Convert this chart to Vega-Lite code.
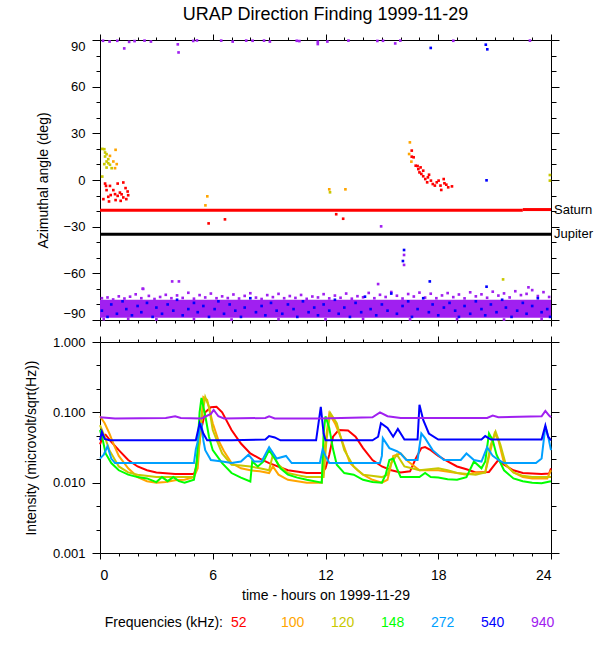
{
  "$schema": "https://vega.github.io/schema/vega-lite/v6.json",
  "background": "white",
  "padding": {"left": 23, "top": 5, "right": 0, "bottom": 0},
  "config": {
    "font": "Liberation Sans",
    "view": {"stroke": "black", "strokeWidth": 1},
    "axis": {
      "domain": false, "grid": false, "tickColor": "black", "tickWidth": 1,
      "labelColor": "black", "titleColor": "black", "labelFontSize": 13,
      "titleFontSize": 14, "titleFontWeight": "normal"
    }
  },
  "spacing": 8,
  "resolve": {"scale": {"color": "independent"}},
  "vconcat": [
    {
      "width": 451,
      "height": 280,
      "title": {"text": "URAP Direction Finding  1999-11-29", "fontSize": 18, "fontWeight": "normal", "frame": "group", "anchor": "middle", "offset": 10},
      "resolve": {"axis": {"x": "independent", "y": "independent"}},
      "layer": [
        {
          "data": {"values": [{"t0": 0, "t1": 24, "a0": -88.5, "a1": -77}]},
          "mark": {"type": "rect", "color": "#a020f0"},
          "encoding": {
            "x": {"field": "t0", "type": "quantitative", "scale": {"domain": [0, 24], "nice": false, "zero": false}, "axis": null},
            "x2": {"field": "t1"},
            "y": {"field": "a0", "type": "quantitative", "scale": {"domain": [-90, 90], "nice": false, "zero": false}, "axis": null},
            "y2": {"field": "a1"}
          }
        },
        {
          "data": {"values": [
            {"t":0.1,"a":-76,"f":"940"},{"t":0.4,"a":-75.5,"f":"940"},{"t":0.7,"a":-76.8,"f":"940"},{"t":1.0,"a":-74.8,"f":"940"},{"t":1.3,"a":-76.2,"f":"940"},{"t":1.6,"a":-75,"f":"940"},{"t":1.9,"a":-73.5,"f":"940"},{"t":2.2,"a":-76,"f":"940"},{"t":2.3,"a":-70,"f":"940"},{"t":2.6,"a":-74.5,"f":"940"},{"t":2.9,"a":-76.5,"f":"940"},{"t":3.2,"a":-75.2,"f":"940"},{"t":3.5,"a":-73.8,"f":"940"},{"t":3.8,"a":-76,"f":"940"},{"t":4.1,"a":-74.2,"f":"940"},{"t":4.4,"a":-75.8,"f":"940"},{"t":4.7,"a":-72.5,"f":"940"},{"t":5.0,"a":-76.3,"f":"940"},{"t":5.3,"a":-74,"f":"940"},{"t":5.6,"a":-75.5,"f":"940"},{"t":5.9,"a":-73,"f":"940"},{"t":6.2,"a":-76,"f":"940"},{"t":6.5,"a":-74.8,"f":"940"},{"t":6.8,"a":-75.9,"f":"940"},{"t":7.1,"a":-73.6,"f":"940"},{"t":7.4,"a":-76.2,"f":"940"},{"t":7.7,"a":-74.5,"f":"940"},{"t":8.0,"a":-72.8,"f":"940"},{"t":8.3,"a":-75.6,"f":"940"},{"t":8.6,"a":-76.5,"f":"940"},{"t":8.9,"a":-74,"f":"940"},{"t":9.2,"a":-75.3,"f":"940"},{"t":9.5,"a":-73.2,"f":"940"},{"t":9.8,"a":-76,"f":"940"},{"t":10.1,"a":-74.6,"f":"940"},{"t":10.4,"a":-75.8,"f":"940"},{"t":10.7,"a":-73.9,"f":"940"},{"t":11.0,"a":-76.4,"f":"940"},{"t":11.3,"a":-74.9,"f":"940"},{"t":11.6,"a":-75.5,"f":"940"},{"t":11.9,"a":-73.4,"f":"940"},{"t":12.2,"a":-76.1,"f":"940"},{"t":12.5,"a":-74.3,"f":"940"},{"t":12.8,"a":-75.7,"f":"940"},{"t":13.1,"a":-73,"f":"940"},{"t":13.4,"a":-76.3,"f":"940"},{"t":13.7,"a":-74.7,"f":"940"},{"t":14.0,"a":-75.4,"f":"940"},{"t":14.3,"a":-72.6,"f":"940"},{"t":14.6,"a":-76,"f":"940"},{"t":14.9,"a":-73.8,"f":"940"},{"t":15.2,"a":-75.2,"f":"940"},{"t":15.5,"a":-72,"f":"940"},{"t":15.8,"a":-74.4,"f":"940"},{"t":16.1,"a":-76.2,"f":"940"},{"t":16.4,"a":-73.3,"f":"940"},{"t":16.7,"a":-74.9,"f":"940"},{"t":17.0,"a":-72.4,"f":"940"},{"t":17.3,"a":-75.6,"f":"940"},{"t":17.6,"a":-73.1,"f":"940"},{"t":17.9,"a":-76,"f":"940"},{"t":18.2,"a":-74.2,"f":"940"},{"t":18.5,"a":-72.7,"f":"940"},{"t":18.8,"a":-75.3,"f":"940"},{"t":19.1,"a":-73.6,"f":"940"},{"t":19.4,"a":-76.1,"f":"940"},{"t":19.7,"a":-72.2,"f":"940"},{"t":20.0,"a":-74.8,"f":"940"},{"t":20.3,"a":-73.5,"f":"940"},{"t":20.6,"a":-75.7,"f":"940"},{"t":20.9,"a":-71.8,"f":"940"},{"t":21.2,"a":-74.3,"f":"940"},{"t":21.5,"a":-72.9,"f":"940"},{"t":21.8,"a":-75.5,"f":"940"},{"t":22.1,"a":-71.5,"f":"940"},{"t":22.4,"a":-74,"f":"940"},{"t":22.7,"a":-73.2,"f":"940"},{"t":23.0,"a":-70.8,"f":"940"},{"t":23.3,"a":-74.6,"f":"940"},{"t":23.6,"a":-72.1,"f":"940"},{"t":23.9,"a":-75.2,"f":"940"},
            {"t":0.2,"a":-89.5,"f":"940"},{"t":1.5,"a":-89.2,"f":"940"},{"t":3,"a":-89.6,"f":"940"},{"t":5,"a":-89.3,"f":"940"},{"t":7,"a":-89.7,"f":"940"},{"t":9.5,"a":-89.4,"f":"940"},{"t":12,"a":-89.5,"f":"940"},{"t":14,"a":-89.2,"f":"940"},{"t":16.5,"a":-89.6,"f":"940"},{"t":19,"a":-89.4,"f":"940"},{"t":21.5,"a":-89.7,"f":"940"},{"t":23.5,"a":-89.3,"f":"940"},
            {"t":0.16,"a":89.5,"f":"940"},{"t":0.51,"a":89,"f":"940"},{"t":0.92,"a":89.5,"f":"940"},{"t":1.29,"a":84.6,"f":"940"},{"t":1.55,"a":88.8,"f":"940"},{"t":1.84,"a":89.3,"f":"940"},{"t":2.37,"a":89.6,"f":"940"},{"t":2.71,"a":89,"f":"940"},{"t":4.14,"a":87.2,"f":"940"},{"t":4.18,"a":82,"f":"940"},{"t":4.96,"a":89.4,"f":"940"},{"t":5.16,"a":89.7,"f":"940"},{"t":6.45,"a":89.6,"f":"940"},{"t":7.06,"a":89,"f":"940"},{"t":7.78,"a":89.6,"f":"940"},{"t":8.12,"a":89.5,"f":"940"},{"t":8.73,"a":89.6,"f":"940"},{"t":9.04,"a":89,"f":"940"},{"t":10.47,"a":89.5,"f":"940"},{"t":10.61,"a":89.3,"f":"940"},{"t":11.59,"a":87.4,"f":"940"},{"t":11.59,"a":88.9,"f":"940"},{"t":12.1,"a":89,"f":"940"},{"t":13.22,"a":89.6,"f":"940"},{"t":14.76,"a":89.4,"f":"940"},{"t":15.06,"a":89.5,"f":"940"},{"t":15.71,"a":87.8,"f":"940"},{"t":15.98,"a":89.6,"f":"940"},{"t":18.8,"a":89.5,"f":"940"},{"t":22.88,"a":89.6,"f":"940"},
            {"t":14.96,"a":-29.8,"f":"940"},{"t":16.18,"a":-48.2,"f":"940"},{"t":16.18,"a":-54.6,"f":"940"},{"t":3.84,"a":-65.2,"f":"940"},{"t":4.2,"a":-65.2,"f":"940"},{"t":2.27,"a":-69.9,"f":"940"},{"t":14.8,"a":-66.9,"f":"940"},{"t":22.8,"a":-69,"f":"940"},
            {"t":17.6,"a":84.9,"f":"540"},{"t":20.53,"a":87,"f":"540"},{"t":20.61,"a":84,"f":"540"},{"t":16.18,"a":-45,"f":"540"},{"t":16.12,"a":-52.1,"f":"540"},{"t":20.57,"a":-0.2,"f":"540"},{"t":17.55,"a":-65.2,"f":"540"},{"t":20.57,"a":-68.6,"f":"540"},
            {"t":0.1,"a":-84,"f":"540"},{"t":0.4,"a":-88,"f":"540"},{"t":0.6,"a":-80,"f":"540"},{"t":0.9,"a":-86,"f":"540"},{"t":1.2,"a":-78,"f":"540"},{"t":1.4,"a":-83,"f":"540"},{"t":1.7,"a":-87,"f":"540"},{"t":2.0,"a":-81,"f":"540"},{"t":2.2,"a":-85,"f":"540"},{"t":2.5,"a":-79,"f":"540"},{"t":2.8,"a":-88,"f":"540"},{"t":3.0,"a":-82,"f":"540"},{"t":3.3,"a":-86,"f":"540"},{"t":3.6,"a":-80,"f":"540"},{"t":3.9,"a":-84,"f":"540"},{"t":4.1,"a":-77,"f":"540"},{"t":4.4,"a":-87,"f":"540"},{"t":4.7,"a":-83,"f":"540"},{"t":5.0,"a":-79,"f":"540"},{"t":5.2,"a":-85,"f":"540"},{"t":5.5,"a":-81,"f":"540"},{"t":5.8,"a":-88,"f":"540"},{"t":6.1,"a":-83,"f":"540"},{"t":6.3,"a":-78,"f":"540"},{"t":6.6,"a":-86,"f":"540"},{"t":6.9,"a":-80,"f":"540"},{"t":7.2,"a":-84,"f":"540"},{"t":7.5,"a":-88,"f":"540"},{"t":7.7,"a":-82,"f":"540"},{"t":8.0,"a":-76,"f":"540"},{"t":8.3,"a":-85,"f":"540"},{"t":8.6,"a":-81,"f":"540"},{"t":8.8,"a":-87,"f":"540"},{"t":9.1,"a":-79,"f":"540"},{"t":9.4,"a":-84,"f":"540"},{"t":9.7,"a":-86,"f":"540"},{"t":10.0,"a":-80,"f":"540"},{"t":10.3,"a":-83,"f":"540"},{"t":10.5,"a":-88,"f":"540"},{"t":10.8,"a":-78,"f":"540"},{"t":11.1,"a":-85,"f":"540"},{"t":11.4,"a":-82,"f":"540"},{"t":11.6,"a":-87,"f":"540"},{"t":11.9,"a":-80,"f":"540"},{"t":12.2,"a":-84,"f":"540"},{"t":12.5,"a":-77,"f":"540"},{"t":12.7,"a":-86,"f":"540"},{"t":13.0,"a":-82,"f":"540"},{"t":13.3,"a":-88,"f":"540"},{"t":13.6,"a":-79,"f":"540"},{"t":13.9,"a":-85,"f":"540"},{"t":14.1,"a":-75,"f":"540"},{"t":14.4,"a":-83,"f":"540"},{"t":14.7,"a":-87,"f":"540"},{"t":15.0,"a":-80,"f":"540"},{"t":15.3,"a":-84,"f":"540"},{"t":15.5,"a":-73,"f":"540"},{"t":15.8,"a":-86,"f":"540"},{"t":16.1,"a":-81,"f":"540"},{"t":16.4,"a":-78,"f":"540"},{"t":16.6,"a":-88,"f":"540"},{"t":16.9,"a":-83,"f":"540"},{"t":17.2,"a":-76,"f":"540"},{"t":17.5,"a":-85,"f":"540"},{"t":17.7,"a":-80,"f":"540"},{"t":18.0,"a":-87,"f":"540"},{"t":18.3,"a":-82,"f":"540"},{"t":18.6,"a":-79,"f":"540"},{"t":18.9,"a":-84,"f":"540"},{"t":19.1,"a":-88,"f":"540"},{"t":19.4,"a":-81,"f":"540"},{"t":19.7,"a":-86,"f":"540"},{"t":20.0,"a":-78,"f":"540"},{"t":20.3,"a":-83,"f":"540"},{"t":20.5,"a":-87,"f":"540"},{"t":20.8,"a":-80,"f":"540"},{"t":21.1,"a":-85,"f":"540"},{"t":21.4,"a":-77,"f":"540"},{"t":21.6,"a":-82,"f":"540"},{"t":21.9,"a":-88,"f":"540"},{"t":22.2,"a":-84,"f":"540"},{"t":22.5,"a":-79,"f":"540"},{"t":22.7,"a":-86,"f":"540"},{"t":23.0,"a":-81,"f":"540"},{"t":23.3,"a":-76,"f":"540"},{"t":23.5,"a":-85,"f":"540"},{"t":23.8,"a":-83,"f":"540"},{"t":23.95,"a":-88,"f":"540"},
            {"t":0.12,"a":20.0,"f":"120"},{"t":0.23,"a":19.8,"f":"120"},{"t":0.27,"a":17.7,"f":"120"},{"t":0.35,"a":16.6,"f":"120"},{"t":0.27,"a":15.1,"f":"120"},{"t":0.44,"a":13.4,"f":"120"},{"t":0.35,"a":11.9,"f":"120"},{"t":0.44,"a":10.8,"f":"120"},{"t":0.23,"a":10.2,"f":"120"},{"t":0.53,"a":9.8,"f":"120"},{"t":0.35,"a":8.0,"f":"120"},{"t":0.62,"a":7.6,"f":"120"},{"t":0.12,"a":2.2,"f":"120"},{"t":12.24,"a":-7.9,"f":"120"},{"t":23.94,"a":3.2,"f":"120"},{"t":23.94,"a":-0.4,"f":"120"},{"t":21.45,"a":-63.9,"f":"120"},
            {"t":0.83,"a":19.4,"f":"100"},{"t":0.53,"a":15.5,"f":"100"},{"t":0.71,"a":11.9,"f":"100"},{"t":0.89,"a":10.2,"f":"100"},{"t":0.8,"a":7.6,"f":"100"},{"t":5.71,"a":-10.5,"f":"100"},{"t":5.61,"a":-16.3,"f":"100"},{"t":12.2,"a":-6,"f":"100"},{"t":13.06,"a":-6,"f":"100"},{"t":16.49,"a":24.2,"f":"100"},{"t":16.45,"a":16.7,"f":"100"},{"t":16.57,"a":11.8,"f":"100"},
            {"t":0.27,"a":-2.3,"f":"52"},{"t":0.32,"a":-3.8,"f":"52"},{"t":0.94,"a":-2.3,"f":"52"},{"t":1.24,"a":-1.6,"f":"52"},{"t":0.53,"a":-3.8,"f":"52"},{"t":1.36,"a":-5.2,"f":"52"},{"t":0.35,"a":-6.5,"f":"52"},{"t":0.71,"a":-6.5,"f":"52"},{"t":1.06,"a":-8.1,"f":"52"},{"t":1.47,"a":-7.4,"f":"52"},{"t":0.8,"a":-9.1,"f":"52"},{"t":0.57,"a":-9.7,"f":"52"},{"t":1.15,"a":-9.2,"f":"52"},{"t":1.5,"a":-9.8,"f":"52"},{"t":0.44,"a":-10.8,"f":"52"},{"t":0.94,"a":-10.2,"f":"52"},{"t":0.18,"a":-12.3,"f":"52"},{"t":0.48,"a":-13.8,"f":"52"},{"t":0.83,"a":-12.9,"f":"52"},{"t":1.1,"a":-13.4,"f":"52"},{"t":1.4,"a":-12.3,"f":"52"},{"t":1.24,"a":-11.2,"f":"52"},
            {"t":5.78,"a":-27.9,"f":"52"},{"t":6.65,"a":-25.3,"f":"52"},{"t":12.57,"a":-22,"f":"52"},{"t":12.94,"a":-24.9,"f":"52"},
            {"t":16.59,"a":18.9,"f":"52"},{"t":16.59,"a":15,"f":"52"},{"t":16.69,"a":14.6,"f":"52"},{"t":16.8,"a":9.2,"f":"52"},{"t":16.9,"a":9,"f":"52"},{"t":16.94,"a":7,"f":"52"},{"t":17,"a":4.9,"f":"52"},{"t":17.1,"a":3.9,"f":"52"},{"t":17.2,"a":2.4,"f":"52"},{"t":17.31,"a":0.6,"f":"52"},{"t":17.41,"a":-1.5,"f":"52"},{"t":17.51,"a":3.4,"f":"52"},{"t":17.61,"a":-0.4,"f":"52"},{"t":17.71,"a":-2.6,"f":"52"},{"t":17.82,"a":-3.6,"f":"52"},{"t":17.92,"a":-1.5,"f":"52"},{"t":18.02,"a":-0.4,"f":"52"},{"t":18.12,"a":-3.6,"f":"52"},{"t":18.16,"a":-6.4,"f":"52"},{"t":18.29,"a":0.6,"f":"52"},{"t":18.33,"a":-2.1,"f":"52"},{"t":18.43,"a":-3,"f":"52"},{"t":18.53,"a":-4.7,"f":"52"},{"t":18.73,"a":-4.1,"f":"52"},{"t":17.2,"a":6,"f":"52"},{"t":17.06,"a":8.1,"f":"52"},{"t":17.45,"a":1.7,"f":"52"}
          ]},
          "mark": {"type": "square", "size": 7, "opacity": 1},
          "encoding": {
            "x": {"field": "t", "type": "quantitative", "axis": {"orient": "bottom", "values": [0, 6, 12, 18, 24], "labels": false, "tickSize": 6, "title": null}},
            "y": {"field": "a", "type": "quantitative", "axis": {"orient": "left", "values": [-90, -60, -30, 0, 30, 60, 90], "tickSize": 8, "labelPadding": 7, "labelFlush": true, "title": "Azimuthal angle (deg)", "titlePadding": 12}},
            "color": {"field": "f", "type": "nominal", "scale": {"domain": ["52", "100", "120", "148", "272", "540", "940"], "range": ["#ff0000", "#ffa500", "#c8c800", "#00ff00", "#00a0ff", "#0000ff", "#a020f0"]}, "legend": null}
          }
        },
        {
          "data": {"values": [{"t0": 0, "t1": 22.5, "a": -19.5}, {"t0": 22.5, "t1": 24, "a": -19}]},
          "mark": {"type": "rule", "color": "#ff0000", "strokeWidth": 3},
          "encoding": {
            "x": {"field": "t0", "type": "quantitative", "axis": null},
            "x2": {"field": "t1"},
            "y": {"field": "a", "type": "quantitative", "axis": null}
          }
        },
        {
          "data": {"values": [{"t0": 0, "t1": 24, "a": -34.8}]},
          "mark": {"type": "rule", "color": "#000000", "strokeWidth": 3},
          "encoding": {
            "x": {"field": "t0", "type": "quantitative", "axis": null},
            "x2": {"field": "t1"},
            "y": {"field": "a", "type": "quantitative", "axis": null}
          }
        },
        {
          "data": {"values": [{"body": "Saturn", "a": -19.3}, {"body": "Jupiter", "a": -34.8}]},
          "mark": {"type": "text", "align": "left", "baseline": "middle", "dx": 3, "fontSize": 13, "color": "black"},
          "encoding": {
            "x": {"datum": 24, "type": "quantitative", "axis": null},
            "y": {"field": "a", "type": "quantitative", "axis": null},
            "text": {"field": "body"}
          }
        },
        {
          "data": {"values": [{"t": 0, "a": 0}]},
          "mark": {"type": "point", "opacity": 0},
          "encoding": {
            "x": {"field": "t", "type": "quantitative", "axis": {"orient": "bottom", "values": [1,2,3,4,5,7,8,9,10,11,13,14,15,16,17,19,20,21,22,23], "labels": false, "tickSize": 3, "title": null}},
            "y": {"field": "a", "type": "quantitative", "axis": {"orient": "left", "values": [-80,-70,-50,-40,-20,-10,10,20,40,50,70,80], "labels": false, "tickSize": 4, "title": null}}
          }
        },
        {
          "data": {"values": [{"t": 0, "a": 0}]},
          "mark": {"type": "point", "opacity": 0},
          "encoding": {
            "x": {"field": "t", "type": "quantitative", "axis": {"orient": "top", "values": [0, 6, 12, 18, 24], "labels": false, "tickSize": 6, "title": null}},
            "y": {"field": "a", "type": "quantitative", "axis": {"orient": "right", "values": [-90, -60, -30, 0, 30, 60, 90], "labels": false, "tickSize": 8, "title": null}}
          }
        },
        {
          "data": {"values": [{"t": 0, "a": 0}]},
          "mark": {"type": "point", "opacity": 0},
          "encoding": {
            "x": {"field": "t", "type": "quantitative", "axis": {"orient": "top", "values": [1,2,3,4,5,7,8,9,10,11,13,14,15,16,17,19,20,21,22,23], "labels": false, "tickSize": 3, "title": null}},
            "y": {"field": "a", "type": "quantitative", "axis": {"orient": "right", "values": [-80,-70,-50,-40,-20,-10,10,20,40,50,70,80], "labels": false, "tickSize": 5, "title": null}}
          }
        }
      ]
    },
    {
      "width": 451,
      "height": 211,
      "resolve": {"axis": {"x": "independent", "y": "independent"}},
      "layer": [
        {
          "data": {"values": [
            {"t":0,"v":0.035,"f":"52"},{"t":0.15,"v":0.045,"f":"52"},{"t":0.3,"v":0.048,"f":"52"},{"t":0.6,"v":0.038,"f":"52"},{"t":1,"v":0.029,"f":"52"},{"t":1.5,"v":0.021,"f":"52"},{"t":2,"v":0.017,"f":"52"},{"t":2.5,"v":0.015,"f":"52"},{"t":3,"v":0.014,"f":"52"},{"t":4,"v":0.0133,"f":"52"},{"t":5,"v":0.0133,"f":"52"},{"t":5.1,"v":0.016,"f":"52"},{"t":5.2,"v":0.025,"f":"52"},{"t":5.4,"v":0.06,"f":"52"},{"t":5.6,"v":0.1,"f":"52"},{"t":5.9,"v":0.118,"f":"52"},{"t":6.2,"v":0.12,"f":"52"},{"t":6.5,"v":0.1,"f":"52"},{"t":7,"v":0.056,"f":"52"},{"t":7.5,"v":0.036,"f":"52"},{"t":8,"v":0.026,"f":"52"},{"t":8.5,"v":0.022,"f":"52"},{"t":9,"v":0.019,"f":"52"},{"t":10,"v":0.015,"f":"52"},{"t":11,"v":0.0137,"f":"52"},{"t":11.8,"v":0.0137,"f":"52"},{"t":12,"v":0.016,"f":"52"},{"t":12.2,"v":0.025,"f":"52"},{"t":12.4,"v":0.045,"f":"52"},{"t":12.7,"v":0.056,"f":"52"},{"t":13.2,"v":0.055,"f":"52"},{"t":13.6,"v":0.045,"f":"52"},{"t":14,"v":0.031,"f":"52"},{"t":14.5,"v":0.021,"f":"52"},{"t":15,"v":0.017,"f":"52"},{"t":15.5,"v":0.015,"f":"52"},{"t":16,"v":0.014,"f":"52"},{"t":16.5,"v":0.0145,"f":"52"},{"t":16.8,"v":0.022,"f":"52"},{"t":17.1,"v":0.031,"f":"52"},{"t":17.3,"v":0.032,"f":"52"},{"t":17.6,"v":0.029,"f":"52"},{"t":18,"v":0.024,"f":"52"},{"t":18.5,"v":0.02,"f":"52"},{"t":19,"v":0.017,"f":"52"},{"t":19.5,"v":0.0155,"f":"52"},{"t":20,"v":0.014,"f":"52"},{"t":20.7,"v":0.0142,"f":"52"},{"t":21,"v":0.018,"f":"52"},{"t":21.2,"v":0.021,"f":"52"},{"t":21.5,"v":0.018,"f":"52"},{"t":22,"v":0.015,"f":"52"},{"t":22.5,"v":0.0137,"f":"52"},{"t":23.5,"v":0.0133,"f":"52"},{"t":23.9,"v":0.0135,"f":"52"},{"t":24,"v":0.016,"f":"52"},
            {"t":0,"v":0.088,"f":"100"},{"t":0.25,"v":0.07,"f":"100"},{"t":0.5,"v":0.05,"f":"100"},{"t":0.75,"v":0.034,"f":"100"},{"t":1,"v":0.024,"f":"100"},{"t":1.5,"v":0.016,"f":"100"},{"t":2,"v":0.012,"f":"100"},{"t":2.5,"v":0.0105,"f":"100"},{"t":3,"v":0.01,"f":"100"},{"t":3.5,"v":0.0102,"f":"100"},{"t":4,"v":0.0108,"f":"100"},{"t":4.5,"v":0.011,"f":"100"},{"t":5,"v":0.012,"f":"100"},{"t":5.2,"v":0.016,"f":"100"},{"t":5.35,"v":0.06,"f":"100"},{"t":5.5,"v":0.165,"f":"100"},{"t":5.7,"v":0.15,"f":"100"},{"t":6,"v":0.07,"f":"100"},{"t":6.3,"v":0.04,"f":"100"},{"t":6.6,"v":0.028,"f":"100"},{"t":7,"v":0.019,"f":"100"},{"t":7.5,"v":0.016,"f":"100"},{"t":8,"v":0.015,"f":"100"},{"t":8.5,"v":0.0145,"f":"100"},{"t":9,"v":0.0137,"f":"100"},{"t":9.2,"v":0.017,"f":"100"},{"t":9.5,"v":0.013,"f":"100"},{"t":10,"v":0.011,"f":"100"},{"t":10.5,"v":0.0105,"f":"100"},{"t":11,"v":0.01,"f":"100"},{"t":11.8,"v":0.01,"f":"100"},{"t":11.95,"v":0.03,"f":"100"},{"t":12.2,"v":0.096,"f":"100"},{"t":12.5,"v":0.07,"f":"100"},{"t":12.8,"v":0.045,"f":"100"},{"t":13.3,"v":0.019,"f":"100"},{"t":13.7,"v":0.015,"f":"100"},{"t":14,"v":0.013,"f":"100"},{"t":14.5,"v":0.011,"f":"100"},{"t":15,"v":0.01,"f":"100"},{"t":15.3,"v":0.011,"f":"100"},{"t":15.6,"v":0.024,"f":"100"},{"t":16,"v":0.026,"f":"100"},{"t":16.4,"v":0.02,"f":"100"},{"t":17,"v":0.015,"f":"100"},{"t":17.5,"v":0.015,"f":"100"},{"t":18,"v":0.015,"f":"100"},{"t":19,"v":0.0137,"f":"100"},{"t":19.5,"v":0.013,"f":"100"},{"t":20,"v":0.014,"f":"100"},{"t":20.5,"v":0.014,"f":"100"},{"t":20.8,"v":0.03,"f":"100"},{"t":21,"v":0.05,"f":"100"},{"t":21.2,"v":0.04,"f":"100"},{"t":21.5,"v":0.019,"f":"100"},{"t":22,"v":0.014,"f":"100"},{"t":22.5,"v":0.012,"f":"100"},{"t":23,"v":0.0115,"f":"100"},{"t":23.8,"v":0.0115,"f":"100"},{"t":24,"v":0.015,"f":"100"},
            {"t":0,"v":0.066,"f":"120"},{"t":0.25,"v":0.045,"f":"120"},{"t":0.5,"v":0.029,"f":"120"},{"t":1,"v":0.017,"f":"120"},{"t":1.5,"v":0.014,"f":"120"},{"t":2,"v":0.013,"f":"120"},{"t":3,"v":0.012,"f":"120"},{"t":4,"v":0.012,"f":"120"},{"t":5,"v":0.012,"f":"120"},{"t":5.2,"v":0.02,"f":"120"},{"t":5.4,"v":0.08,"f":"120"},{"t":5.6,"v":0.165,"f":"120"},{"t":5.8,"v":0.12,"f":"120"},{"t":6,"v":0.056,"f":"120"},{"t":6.3,"v":0.035,"f":"120"},{"t":6.5,"v":0.026,"f":"120"},{"t":7,"v":0.018,"f":"120"},{"t":7.5,"v":0.0175,"f":"120"},{"t":8,"v":0.017,"f":"120"},{"t":8.5,"v":0.016,"f":"120"},{"t":9,"v":0.015,"f":"120"},{"t":9.2,"v":0.025,"f":"120"},{"t":9.5,"v":0.018,"f":"120"},{"t":10,"v":0.0137,"f":"120"},{"t":10.5,"v":0.0128,"f":"120"},{"t":11,"v":0.012,"f":"120"},{"t":11.9,"v":0.012,"f":"120"},{"t":12.05,"v":0.04,"f":"120"},{"t":12.25,"v":0.098,"f":"120"},{"t":12.6,"v":0.07,"f":"120"},{"t":13,"v":0.029,"f":"120"},{"t":13.5,"v":0.017,"f":"120"},{"t":14,"v":0.013,"f":"120"},{"t":15,"v":0.012,"f":"120"},{"t":15.3,"v":0.013,"f":"120"},{"t":15.5,"v":0.019,"f":"120"},{"t":15.8,"v":0.025,"f":"120"},{"t":16.2,"v":0.017,"f":"120"},{"t":16.6,"v":0.016,"f":"120"},{"t":17,"v":0.015,"f":"120"},{"t":18,"v":0.016,"f":"120"},{"t":18.5,"v":0.015,"f":"120"},{"t":19,"v":0.0137,"f":"120"},{"t":20,"v":0.013,"f":"120"},{"t":20.5,"v":0.014,"f":"120"},{"t":20.8,"v":0.035,"f":"120"},{"t":21.05,"v":0.053,"f":"120"},{"t":21.3,"v":0.035,"f":"120"},{"t":21.6,"v":0.018,"f":"120"},{"t":22,"v":0.014,"f":"120"},{"t":22.5,"v":0.0125,"f":"120"},{"t":23,"v":0.012,"f":"120"},{"t":24,"v":0.012,"f":"120"},
            {"t":0,"v":0.056,"f":"148"},{"t":0.15,"v":0.04,"f":"148"},{"t":0.3,"v":0.026,"f":"148"},{"t":0.6,"v":0.019,"f":"148"},{"t":1,"v":0.015,"f":"148"},{"t":1.5,"v":0.013,"f":"148"},{"t":2,"v":0.012,"f":"148"},{"t":2.5,"v":0.0115,"f":"148"},{"t":3,"v":0.0102,"f":"148"},{"t":3.3,"v":0.012,"f":"148"},{"t":3.6,"v":0.0105,"f":"148"},{"t":3.9,"v":0.012,"f":"148"},{"t":4.2,"v":0.0105,"f":"148"},{"t":4.5,"v":0.01,"f":"148"},{"t":5,"v":0.011,"f":"148"},{"t":5.15,"v":0.02,"f":"148"},{"t":5.3,"v":0.1,"f":"148"},{"t":5.4,"v":0.16,"f":"148"},{"t":5.6,"v":0.09,"f":"148"},{"t":5.8,"v":0.045,"f":"148"},{"t":6,"v":0.029,"f":"148"},{"t":6.5,"v":0.019,"f":"148"},{"t":7,"v":0.0137,"f":"148"},{"t":7.5,"v":0.0118,"f":"148"},{"t":8,"v":0.0104,"f":"148"},{"t":8.1,"v":0.02,"f":"148"},{"t":8.4,"v":0.017,"f":"148"},{"t":8.7,"v":0.02,"f":"148"},{"t":9,"v":0.029,"f":"148"},{"t":9.3,"v":0.022,"f":"148"},{"t":9.6,"v":0.016,"f":"148"},{"t":10,"v":0.013,"f":"148"},{"t":10.5,"v":0.0118,"f":"148"},{"t":11,"v":0.011,"f":"148"},{"t":11.8,"v":0.01,"f":"148"},{"t":11.9,"v":0.05,"f":"148"},{"t":12,"v":0.088,"f":"148"},{"t":12.2,"v":0.06,"f":"148"},{"t":12.4,"v":0.03,"f":"148"},{"t":12.6,"v":0.018,"f":"148"},{"t":13,"v":0.0137,"f":"148"},{"t":13.5,"v":0.013,"f":"148"},{"t":14,"v":0.011,"f":"148"},{"t":14.5,"v":0.0102,"f":"148"},{"t":15,"v":0.01,"f":"148"},{"t":15.2,"v":0.013,"f":"148"},{"t":15.4,"v":0.021,"f":"148"},{"t":15.6,"v":0.022,"f":"148"},{"t":15.8,"v":0.016,"f":"148"},{"t":16,"v":0.012,"f":"148"},{"t":16.5,"v":0.012,"f":"148"},{"t":17,"v":0.012,"f":"148"},{"t":17.3,"v":0.0137,"f":"148"},{"t":17.6,"v":0.012,"f":"148"},{"t":18,"v":0.0118,"f":"148"},{"t":18.5,"v":0.0112,"f":"148"},{"t":19,"v":0.011,"f":"148"},{"t":19.5,"v":0.012,"f":"148"},{"t":19.9,"v":0.02,"f":"148"},{"t":20.3,"v":0.016,"f":"148"},{"t":20.5,"v":0.02,"f":"148"},{"t":20.7,"v":0.05,"f":"148"},{"t":20.9,"v":0.04,"f":"148"},{"t":21.1,"v":0.025,"f":"148"},{"t":21.5,"v":0.015,"f":"148"},{"t":22,"v":0.0115,"f":"148"},{"t":22.5,"v":0.0105,"f":"148"},{"t":23,"v":0.01,"f":"148"},{"t":23.5,"v":0.0098,"f":"148"},{"t":24,"v":0.0105,"f":"148"},
            {"t":0,"v":0.022,"f":"272"},{"t":0.2,"v":0.025,"f":"272"},{"t":0.4,"v":0.033,"f":"272"},{"t":0.6,"v":0.022,"f":"272"},{"t":0.8,"v":0.019,"f":"272"},{"t":2,"v":0.019,"f":"272"},{"t":3,"v":0.019,"f":"272"},{"t":4,"v":0.019,"f":"272"},{"t":5,"v":0.019,"f":"272"},{"t":5.1,"v":0.03,"f":"272"},{"t":5.2,"v":0.038,"f":"272"},{"t":5.3,"v":0.055,"f":"272"},{"t":5.4,"v":0.07,"f":"272"},{"t":5.5,"v":0.04,"f":"272"},{"t":5.6,"v":0.029,"f":"272"},{"t":5.9,"v":0.021,"f":"272"},{"t":6.5,"v":0.02,"f":"272"},{"t":7,"v":0.019,"f":"272"},{"t":7.5,"v":0.02,"f":"272"},{"t":7.9,"v":0.025,"f":"272"},{"t":8.2,"v":0.02,"f":"272"},{"t":8.6,"v":0.02,"f":"272"},{"t":9,"v":0.032,"f":"272"},{"t":9.4,"v":0.022,"f":"272"},{"t":9.9,"v":0.024,"f":"272"},{"t":10.2,"v":0.019,"f":"272"},{"t":11,"v":0.019,"f":"272"},{"t":11.7,"v":0.019,"f":"272"},{"t":11.85,"v":0.03,"f":"272"},{"t":12,"v":0.024,"f":"272"},{"t":12.2,"v":0.019,"f":"272"},{"t":13,"v":0.019,"f":"272"},{"t":14,"v":0.019,"f":"272"},{"t":14.9,"v":0.019,"f":"272"},{"t":15,"v":0.024,"f":"272"},{"t":15.05,"v":0.043,"f":"272"},{"t":15.4,"v":0.031,"f":"272"},{"t":15.8,"v":0.028,"f":"272"},{"t":16,"v":0.026,"f":"272"},{"t":16.3,"v":0.021,"f":"272"},{"t":16.9,"v":0.021,"f":"272"},{"t":17.1,"v":0.05,"f":"272"},{"t":17.3,"v":0.043,"f":"272"},{"t":17.7,"v":0.029,"f":"272"},{"t":18.3,"v":0.021,"f":"272"},{"t":19.2,"v":0.021,"f":"272"},{"t":19.5,"v":0.026,"f":"272"},{"t":19.9,"v":0.021,"f":"272"},{"t":20.3,"v":0.02,"f":"272"},{"t":20.6,"v":0.032,"f":"272"},{"t":20.9,"v":0.024,"f":"272"},{"t":21.2,"v":0.021,"f":"272"},{"t":21.5,"v":0.019,"f":"272"},{"t":23.2,"v":0.019,"f":"272"},{"t":23.5,"v":0.022,"f":"272"},{"t":23.7,"v":0.063,"f":"272"},{"t":23.85,"v":0.045,"f":"272"},{"t":24,"v":0.029,"f":"272"},
            {"t":0,"v":0.04,"f":"540"},{"t":0.1,"v":0.053,"f":"540"},{"t":0.25,"v":0.042,"f":"540"},{"t":0.5,"v":0.04,"f":"540"},{"t":2,"v":0.04,"f":"540"},{"t":4,"v":0.04,"f":"540"},{"t":5.1,"v":0.04,"f":"540"},{"t":5.3,"v":0.07,"f":"540"},{"t":5.5,"v":0.05,"f":"540"},{"t":5.7,"v":0.04,"f":"540"},{"t":7,"v":0.04,"f":"540"},{"t":8.8,"v":0.041,"f":"540"},{"t":9,"v":0.046,"f":"540"},{"t":9.3,"v":0.044,"f":"540"},{"t":9.6,"v":0.04,"f":"540"},{"t":11.5,"v":0.04,"f":"540"},{"t":11.75,"v":0.12,"f":"540"},{"t":11.9,"v":0.05,"f":"540"},{"t":12,"v":0.04,"f":"540"},{"t":14.5,"v":0.04,"f":"540"},{"t":14.8,"v":0.045,"f":"540"},{"t":14.95,"v":0.07,"f":"540"},{"t":15.3,"v":0.06,"f":"540"},{"t":15.6,"v":0.045,"f":"540"},{"t":15.85,"v":0.058,"f":"540"},{"t":16.2,"v":0.041,"f":"540"},{"t":16.9,"v":0.041,"f":"540"},{"t":17,"v":0.128,"f":"540"},{"t":17.2,"v":0.078,"f":"540"},{"t":17.5,"v":0.05,"f":"540"},{"t":18,"v":0.041,"f":"540"},{"t":20.3,"v":0.041,"f":"540"},{"t":20.5,"v":0.046,"f":"540"},{"t":20.8,"v":0.041,"f":"540"},{"t":23.5,"v":0.041,"f":"540"},{"t":23.7,"v":0.065,"f":"540"},{"t":23.85,"v":0.045,"f":"540"},{"t":24,"v":0.04,"f":"540"},
            {"t":0,"v":0.085,"f":"940"},{"t":0.8,"v":0.082,"f":"940"},{"t":3.5,"v":0.083,"f":"940"},{"t":4,"v":0.088,"f":"940"},{"t":4.3,"v":0.083,"f":"940"},{"t":5.4,"v":0.082,"f":"940"},{"t":5.9,"v":0.095,"f":"940"},{"t":6.05,"v":0.108,"f":"940"},{"t":6.3,"v":0.088,"f":"940"},{"t":6.6,"v":0.082,"f":"940"},{"t":8.8,"v":0.083,"f":"940"},{"t":9,"v":0.088,"f":"940"},{"t":9.3,"v":0.082,"f":"940"},{"t":11.7,"v":0.082,"f":"940"},{"t":14.5,"v":0.085,"f":"940"},{"t":14.9,"v":0.1,"f":"940"},{"t":15.3,"v":0.088,"f":"940"},{"t":16,"v":0.083,"f":"940"},{"t":20.6,"v":0.083,"f":"940"},{"t":20.9,"v":0.09,"f":"940"},{"t":21.2,"v":0.085,"f":"940"},{"t":23.5,"v":0.088,"f":"940"},{"t":23.7,"v":0.105,"f":"940"},{"t":23.9,"v":0.09,"f":"940"},{"t":24,"v":0.085,"f":"940"}
          ]},
          "mark": {"type": "line", "strokeWidth": 2},
          "encoding": {
            "x": {"field": "t", "type": "quantitative", "scale": {"domain": [0, 24], "nice": false, "zero": false},
                  "axis": {"orient": "bottom", "values": [0, 6, 12, 18, 24], "tickSize": 6, "labelPadding": 9, "labelFontSize": 14, "title": "time - hours on 1999-11-29", "titlePadding": 6}},
            "y": {"field": "v", "type": "quantitative", "scale": {"type": "log", "domain": [0.001, 1], "nice": false},
                  "axis": {"orient": "left", "values": [0.001, 0.01, 0.1, 1], "format": ".3f", "tickSize": 8, "labelPadding": 7, "title": "Intensity (microvolt/sqrt(Hz))", "titlePadding": 14}},
            "color": {"field": "f", "type": "nominal", "scale": {"domain": ["52", "100", "120", "148", "272", "540", "940"], "range": ["#ff0000", "#ffa500", "#c8c800", "#00ff00", "#00a0ff", "#0000ff", "#a020f0"]}, "legend": null}
          }
        },
        {
          "data": {"values": [{"t": 0, "v": 0.01}]},
          "mark": {"type": "point", "opacity": 0},
          "encoding": {
            "x": {"field": "t", "type": "quantitative", "axis": {"orient": "bottom", "values": [1,2,3,4,5,7,8,9,10,11,13,14,15,16,17,19,20,21,22,23], "labels": false, "tickSize": 3, "title": null}},
            "y": {"field": "v", "type": "quantitative", "axis": {"orient": "left", "values": [0.002154, 0.004642, 0.02154, 0.04642, 0.2154, 0.4642], "labels": false, "tickSize": 4, "title": null}}
          }
        },
        {
          "data": {"values": [{"t": 0, "v": 0.01}]},
          "mark": {"type": "point", "opacity": 0},
          "encoding": {
            "x": {"field": "t", "type": "quantitative", "axis": {"orient": "top", "values": [0, 6, 12, 18, 24], "labels": false, "tickSize": 6, "title": null}},
            "y": {"field": "v", "type": "quantitative", "axis": {"orient": "right", "values": [0.001, 0.01, 0.1, 1], "labels": false, "tickSize": 8, "title": null}}
          }
        },
        {
          "data": {"values": [{"t": 0, "v": 0.01}]},
          "mark": {"type": "point", "opacity": 0},
          "encoding": {
            "x": {"field": "t", "type": "quantitative", "axis": {"orient": "top", "values": [1,2,3,4,5,7,8,9,10,11,13,14,15,16,17,19,20,21,22,23], "labels": false, "tickSize": 3, "title": null}},
            "y": {"field": "v", "type": "quantitative", "axis": {"orient": "right", "values": [0.002154, 0.004642, 0.02154, 0.04642, 0.2154, 0.4642], "labels": false, "tickSize": 5, "title": null}}
          }
        }
      ]
    },
    {
      "width": 451,
      "height": 24,
      "view": {"stroke": null},
      "data": {"values": [
        {"label": "Frequencies (kHz):", "key": "title"},
        {"label": "52", "key": "52"},
        {"label": "100", "key": "100"},
        {"label": "120", "key": "120"},
        {"label": "148", "key": "148"},
        {"label": "272", "key": "272"},
        {"label": "540", "key": "540"},
        {"label": "940", "key": "940"}
      ]},
      "layer": [
        {
          "transform": [{"filter": "datum.key != 'title'"}],
          "mark": {"type": "text", "align": "left", "baseline": "middle", "fontSize": 14},
          "encoding": {
            "x": {"field": "key", "type": "nominal", "scale": {"type": "point", "domain": ["title", "52", "100", "120", "148", "272", "540", "940"], "range": [81, 431], "padding": 0}, "axis": null},
            "text": {"field": "label"},
            "color": {"field": "key", "type": "nominal", "scale": {"domain": ["title", "52", "100", "120", "148", "272", "540", "940"], "range": ["#000000", "#ff0000", "#ffa500", "#c8c800", "#00ff00", "#00a0ff", "#0000ff", "#a020f0"]}, "legend": null}
          }
        },
        {
          "transform": [{"filter": "datum.key == 'title'"}],
          "mark": {"type": "text", "align": "right", "baseline": "middle", "fontSize": 14, "dx": 42},
          "encoding": {
            "x": {"field": "key", "type": "nominal", "axis": null},
            "text": {"field": "label"},
            "color": {"field": "key", "type": "nominal", "legend": null}
          }
        }
      ]
    }
  ]
}
